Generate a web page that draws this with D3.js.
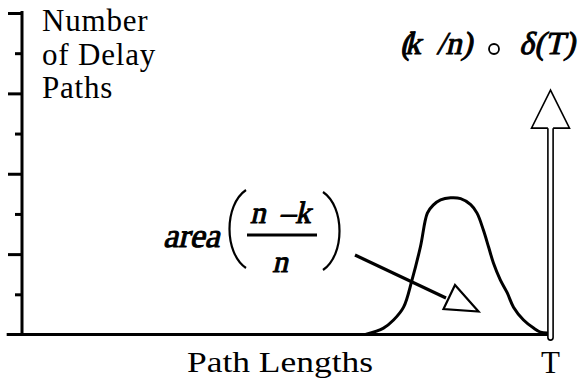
<!DOCTYPE html>
<html>
<head>
<meta charset="utf-8">
<script src="https://cdn.jsdelivr.net/npm/d3@7"></script>
<style>
  html, body { margin: 0; padding: 0; background: #fff; }
  svg { display: block; }
</style>
</head>
<body>
<svg id="chart" width="582" height="390"></svg>
<script>
// Distribution of delay-path lengths (0 .. T, T = 100) and the number of paths at each length
const pathLengths = [65.0, 68.4, 70.3, 72.2, 73.8, 75.4, 76.7, 77.8, 79.2, 81.1, 83.0, 84.9, 86.1, 87.3, 88.3, 89.2, 90.5, 91.8, 93.0, 94.9, 96.8, 98.1, 99.4];
const pathCounts  = [0.00, 0.16, 0.36, 0.68, 1.36, 2.19, 3.02, 3.22, 3.35, 3.40, 3.38, 3.23, 3.02, 2.60, 2.17, 1.78, 1.36, 1.04, 0.68, 0.36, 0.16, 0.06, 0.04];

// Y axis ticks: long and short marks alternate
const yTicksLong  = [2, 4, 6, 8];
const yTicksShort = [1, 3, 5, 7];

// Impulse at the clock period T carrying weight k/n
const deltaAt = 100;
const deltaWeight = 6.08;

// Text
const yLabelLines = ["Number", "of Delay", "Paths"];
const xLabel = "Path Lengths";
const xEndLabel = "T";

const SERIF = "\"Liberation Serif\", \"Times New Roman\", Tinos, FreeSerif";

const svg = d3.select("#chart");

// upright serif text
function txt(parent) {
  return parent.append("text")
    .style("font-family", SERIF)
    .attr("fill", "#000");
}

// slanted, emboldened serif text for the math annotations
function mathTxt(px, py, size, anchor) {
  const g = svg.append("g").attr("transform", `translate(${px},${py}) skewX(-13)`);
  return txt(g)
    .attr("x", 0).attr("y", 0)
    .attr("font-size", size)
    .attr("text-anchor", anchor || "start")
    .attr("stroke", "#000").attr("stroke-width", 1)
    .attr("stroke-linejoin", "round");
}

const x = d3.scaleLinear().domain([0, 100]).range([22, 550.5]);
const y = d3.scaleLinear().domain([0, 8]).range([334.5, 13]);

// ---- axes ----
const yAxisLong = d3.axisLeft(y).tickValues(yTicksLong).tickSize(14).tickFormat("").tickSizeOuter(0);
const yAxisShort = d3.axisLeft(y).tickValues(yTicksShort).tickSize(7).tickFormat("").tickSizeOuter(0);

const gLong = svg.append("g").attr("transform", `translate(${x(0)},0)`).call(yAxisLong);
const gShort = svg.append("g").attr("transform", `translate(${x(0)},0)`).call(yAxisShort);
[gLong, gShort].forEach(g => {
  g.select(".domain").remove();
  g.selectAll(".tick line").attr("stroke", "#000").attr("stroke-width", 3);
});

// vertical axis line
svg.append("line")
  .attr("x1", x(0)).attr("x2", x(0))
  .attr("y1", y(8) - 2).attr("y2", y(0) + 1.5)
  .attr("stroke", "#000").attr("stroke-width", 3);

// baseline (path-length axis)
svg.append("line")
  .attr("x1", x(-2.9)).attr("x2", x(deltaAt))
  .attr("y1", y(0)).attr("y2", y(0))
  .attr("stroke", "#000").attr("stroke-width", 3);

// ---- distribution curve ----
const pts = pathLengths.map((d, i) => [d, pathCounts[i]]);
const line = d3.line()
  .x(d => x(d[0]))
  .y(d => y(d[1]))
  .curve(d3.curveCatmullRom.alpha(0.5));

svg.append("path")
  .attr("d", line(pts))
  .attr("fill", "none")
  .attr("stroke", "#000")
  .attr("stroke-width", 3)
  .attr("stroke-linejoin", "round")
  .attr("stroke-linecap", "round");

// ---- impulse arrow at T ----
const xd = x(deltaAt);
const tipY = y(deltaWeight);
const headH = 38, headW = 19, shaftW = 2.6;
const baseY = tipY + headH;

svg.append("path")
  .attr("d", `M${xd},${tipY} L${xd - headW},${baseY} L${xd + headW},${baseY} Z`)
  .attr("fill", "#fff").attr("stroke", "#000").attr("stroke-width", 1.6)
  .attr("stroke-linejoin", "miter");

svg.append("rect")
  .attr("x", xd - shaftW).attr("y", baseY - 1.5)
  .attr("width", shaftW * 2).attr("height", y(0) + 5 - baseY)
  .attr("fill", "#fff");

svg.append("path")
  .attr("d", `M${xd - shaftW},${baseY} V${y(0) + 3} A${shaftW},${shaftW} 0 0 0 ${xd + shaftW},${y(0) + 3} V${baseY}`)
  .attr("fill", "none").attr("stroke", "#000").attr("stroke-width", 1.6);

// ---- axis titles ----
yLabelLines.forEach((t, i) => {
  txt(svg)
    .attr("x", 42).attr("y", 31 + i * 33.5)
    .attr("font-size", 31)
    .attr("letter-spacing", 0.8)
    .text(t);
});

txt(svg)
  .attr("x", 187).attr("y", 372)
  .attr("font-size", 30)
  .attr("textLength", 186)
  .attr("lengthAdjust", "spacingAndGlyphs")
  .text(xLabel);

txt(svg)
  .attr("x", xd).attr("y", 373)
  .attr("text-anchor", "middle")
  .attr("font-size", 31)
  .text(xEndLabel);

// ---- impulse label: (k/n) ∘ δ(T) ----
const f1 = mathTxt(400, 54, 32);
f1.append("tspan").text("(");
f1.append("tspan").attr("dx", -6).text("k");
f1.append("tspan").attr("dx", 16).text("/n");
f1.append("tspan").text(")");
svg.append("circle")
  .attr("cx", 494).attr("cy", 49).attr("r", 5)
  .attr("fill", "none").attr("stroke", "#000").attr("stroke-width", 1.8);
mathTxt(575, 54, 32, "end").text("δ(T)");

// ---- area annotation: area((n-k)/n) ----
mathTxt(163, 247, 34).text("area");

svg.append("path")
  .attr("d", "M246,190 C224,205 224,253 246,268")
  .attr("fill", "none").attr("stroke", "#000").attr("stroke-width", 2.2);
svg.append("path")
  .attr("d", "M323,192 C345,207 345,255 323,270")
  .attr("fill", "none").attr("stroke", "#000").attr("stroke-width", 2.2);

const num = mathTxt(250, 223, 31);
num.append("tspan").text("n");
num.append("tspan").attr("dx", 14).text("–k");

svg.append("line")
  .attr("x1", 247).attr("x2", 317).attr("y1", 235).attr("y2", 235)
  .attr("stroke", "#000").attr("stroke-width", 3);

mathTxt(280, 272, 31, "middle").text("n");

// pointer from the label into the area under the curve
const pFrom = [x.invert(355), y.invert(255)];
const pTo = [x.invert(446), y.invert(298)];
svg.append("line")
  .attr("x1", x(pFrom[0])).attr("y1", y(pFrom[1]))
  .attr("x2", x(pTo[0])).attr("y2", y(pTo[1]))
  .attr("stroke", "#000").attr("stroke-width", 3.2);
svg.append("path")
  .attr("d", "M455,285 L478.5,311.5 L443.5,309 Z")
  .attr("fill", "#fff").attr("stroke", "#000").attr("stroke-width", 2.2)
  .attr("stroke-linejoin", "miter");
</script>
</body>
</html>
